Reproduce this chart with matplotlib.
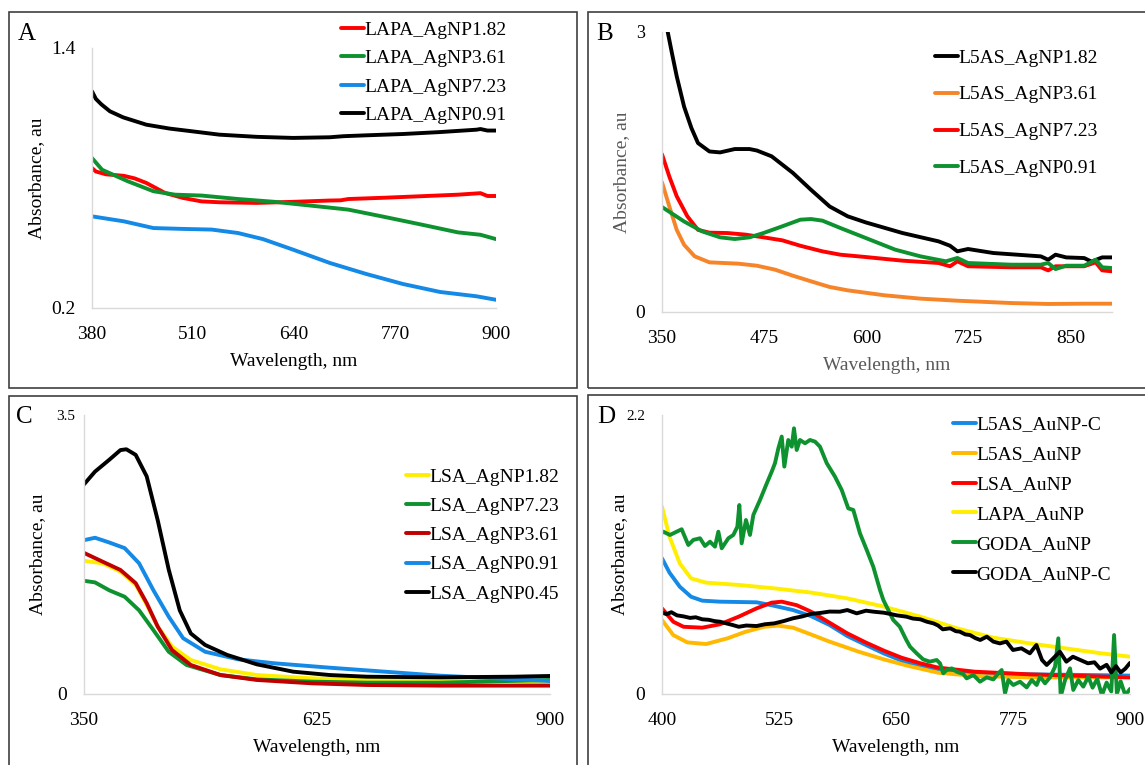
import numpy as np
import matplotlib
matplotlib.use('Agg')
import matplotlib.pyplot as plt
from matplotlib.patches import Rectangle

plt.rcParams['font.family'] = ['Liberation Serif', 'DejaVu Serif']

W, H = 1145, 765

## panel A : LAPA_AgNP (wavelength nm, absorbance au)
a_agnp182 = [(380, 0.846), (385, 0.83), (398, 0.817), (421, 0.81), (435, 0.798), (450, 0.777),
             (474, 0.731), (497, 0.708), (521, 0.692), (544, 0.688), (592, 0.685), (639, 0.69),
             (686, 0.696), (700, 0.697), (710, 0.703), (757, 0.709), (804, 0.716), (851, 0.723),
             (880, 0.73), (889, 0.717), (900, 0.717)]
a_agnp361 = [(380, 0.892), (393, 0.838), (426, 0.785), (459, 0.739), (487, 0.723), (521, 0.719),
             (568, 0.703), (615, 0.69), (663, 0.672), (700, 0.658), (710, 0.654), (757, 0.62),
             (804, 0.585), (851, 0.549), (880, 0.538), (900, 0.518)]
a_agnp723 = [(380, 0.623), (421, 0.6), (459, 0.569), (497, 0.565), (534, 0.562), (568, 0.546),
             (600, 0.518), (639, 0.469), (686, 0.408), (733, 0.357), (780, 0.311), (828, 0.274),
             (875, 0.254), (900, 0.238)]
a_agnp091 = [(380, 1.2), (385, 1.165), (392, 1.14), (403, 1.108), (420, 1.08), (450, 1.046),
             (480, 1.028), (510, 1.015), (544, 1.0), (592, 0.99), (639, 0.985), (686, 0.988),
             (704, 0.993), (733, 0.997), (780, 1.003), (828, 1.012), (875, 1.023), (880, 1.026),
             (889, 1.019), (900, 1.019)]
a_labels = ['LAPA_AgNP1.82', 'LAPA_AgNP3.61', 'LAPA_AgNP7.23', 'LAPA_AgNP0.91']

## panel B : L5AS_AgNP
b_agnp182 = [(350, 3.3), (357, 3.0), (362, 2.78), (368, 2.525), (377, 2.2), (386, 1.97), (394, 1.81),
             (408, 1.72), (421, 1.71), (439, 1.746), (457, 1.746), (466, 1.73), (484, 1.668),
             (510, 1.49), (532, 1.31), (555, 1.13), (577, 1.025), (599, 0.96), (644, 0.846),
             (688, 0.757), (702, 0.71), (711, 0.65), (724, 0.675), (755, 0.632), (813, 0.596),
             (822, 0.56), (831, 0.614), (844, 0.585), (866, 0.578), (875, 0.54), (888, 0.585),
             (900, 0.585)]
b_agnp361 = [(350, 1.39), (359, 1.13), (368, 0.88), (377, 0.72), (390, 0.596), (408, 0.532),
             (443, 0.518), (466, 0.496), (488, 0.454), (510, 0.389), (532, 0.329), (555, 0.268),
             (577, 0.232), (622, 0.179), (666, 0.143), (711, 0.121), (777, 0.096), (822, 0.086),
             (866, 0.089), (900, 0.089)]
b_agnp723 = [(350, 1.69), (359, 1.45), (368, 1.24), (381, 1.025), (394, 0.88), (408, 0.85),
             (430, 0.846), (452, 0.829), (474, 0.8), (497, 0.768), (519, 0.71), (546, 0.65),
             (568, 0.614), (599, 0.589), (644, 0.55), (688, 0.525), (702, 0.49), (711, 0.543),
             (724, 0.49), (777, 0.479), (813, 0.479), (822, 0.446), (831, 0.49), (866, 0.49),
             (880, 0.532), (888, 0.446), (900, 0.436)]
b_agnp091 = [(350, 1.125), (377, 0.97), (399, 0.864), (421, 0.8), (439, 0.782), (457, 0.8),
             (474, 0.846), (497, 0.918), (519, 0.989), (532, 0.996), (546, 0.979), (568, 0.9),
             (599, 0.793), (635, 0.668), (666, 0.596), (697, 0.543), (711, 0.579), (724, 0.525),
             (777, 0.507), (813, 0.507), (822, 0.525), (831, 0.46), (844, 0.496), (866, 0.496),
             (880, 0.56), (888, 0.479), (900, 0.471)]
b_labels = ['L5AS_AgNP1.82', 'L5AS_AgNP3.61', 'L5AS_AgNP7.23', 'L5AS_AgNP0.91']

## panel C : LSA_AgNP
c_agnp182 = [(350, 1.67), (372, 1.64), (393, 1.535), (411, 1.37), (424, 1.12), (437, 0.845),
             (454, 0.594), (476, 0.427), (511, 0.31), (554, 0.238), (619, 0.197), (684, 0.176),
             (770, 0.167), (835, 0.163), (900, 0.142)]
c_agnp723 = [(350, 1.42), (363, 1.4), (380, 1.3), (398, 1.22), (415, 1.05), (432, 0.8), (450, 0.53),
             (471, 0.364), (511, 0.238), (554, 0.184), (619, 0.155), (684, 0.142), (770, 0.142),
             (900, 0.176)]
c_agnp361 = [(350, 1.77), (372, 1.66), (393, 1.556), (411, 1.39), (424, 1.14), (437, 0.845),
             (454, 0.55), (476, 0.364), (511, 0.238), (554, 0.176), (619, 0.134), (684, 0.113),
             (770, 0.105), (900, 0.105)]
c_agnp091 = [(350, 1.93), (363, 1.96), (380, 1.9), (398, 1.83), (415, 1.64), (432, 1.3), (450, 0.97),
             (467, 0.7), (493, 0.53), (532, 0.435), (575, 0.385), (640, 0.33), (705, 0.28),
             (770, 0.23), (835, 0.197), (900, 0.163)]
c_agnp045 = [(350, 2.63), (363, 2.79), (380, 2.94), (393, 3.06), (400, 3.07), (411, 3.0), (424, 2.73),
             (437, 2.18), (450, 1.56), (463, 1.05), (476, 0.76), (493, 0.615), (519, 0.49),
             (554, 0.372), (597, 0.28), (640, 0.238), (684, 0.217), (770, 0.209), (857, 0.217),
             (900, 0.226)]
c_labels = ['LSA_AgNP1.82', 'LSA_AgNP7.23', 'LSA_AgNP3.61', 'LSA_AgNP0.91', 'LSA_AgNP0.45']

## panel D : AuNP
d_l5as_c = [(400, 1.07), (408, 0.957), (419, 0.846), (431, 0.767), (443, 0.736), (462, 0.728),
            (501, 0.723), (517, 0.7), (540, 0.662), (559, 0.615), (579, 0.544), (598, 0.457),
            (618, 0.386), (637, 0.32), (656, 0.263), (676, 0.22), (695, 0.194), (734, 0.168),
            (792, 0.155), (851, 0.15), (900, 0.145)]
d_l5as = [(400, 0.583), (412, 0.465), (427, 0.407), (447, 0.394), (470, 0.439), (489, 0.49),
          (509, 0.53), (524, 0.539), (540, 0.523), (559, 0.47), (579, 0.413), (610, 0.334),
          (637, 0.273), (664, 0.22), (695, 0.168), (734, 0.142), (792, 0.131), (900, 0.131)]
d_lsa = [(400, 0.675), (412, 0.57), (423, 0.53), (443, 0.523), (462, 0.55), (482, 0.61), (501, 0.675),
         (517, 0.72), (528, 0.728), (544, 0.7), (559, 0.65), (579, 0.562), (598, 0.478), (618, 0.405),
         (637, 0.342), (656, 0.286), (676, 0.242), (695, 0.208), (734, 0.176), (792, 0.155),
         (851, 0.142), (900, 0.131)]
d_lapa = [(400, 1.477), (408, 1.24), (419, 1.03), (431, 0.912), (447, 0.878), (482, 0.86), (520, 0.833),
          (559, 0.8), (598, 0.754), (637, 0.689), (676, 0.61), (715, 0.518), (754, 0.444), (792, 0.4),
          (831, 0.36), (870, 0.32), (900, 0.294)]
d_goda = [(400, 1.27), (401.4, 1.28), (408.5, 1.254), (415.7, 1.28), (421, 1.299), (428.1, 1.175),
          (433.5, 1.215), (440.6, 1.228), (445.9, 1.167), (451.3, 1.201), (456.6, 1.162), (460.2, 1.28),
          (463.8, 1.149), (470.9, 1.228), (476.2, 1.254), (480.5, 1.319), (482.6, 1.49), (485.1, 1.188),
          (489.7, 1.372), (494, 1.254), (497.6, 1.412), (504.7, 1.53), (511.9, 1.66), (517.2, 1.753),
          (520.7, 1.82), (524.3, 1.937), (527.9, 2.03), (530.7, 1.793), (534.9, 2.003), (538.6, 1.95),
          (541, 2.095), (543.9, 1.924), (547.4, 2.003), (552.8, 1.977), (558.1, 2.003), (563.5, 1.99),
          (568.8, 1.95), (576, 1.82), (584.8, 1.714), (592, 1.609), (599, 1.464), (604.4, 1.451),
          (611.5, 1.267), (618.7, 1.136), (625.7, 1.004), (632.9, 0.82), (636.5, 0.741), (647, 0.584),
          (654, 0.531), (661, 0.426), (665, 0.373), (672, 0.321), (679, 0.273), (686, 0.255),
          (693.5, 0.268), (697, 0.242), (700.5, 0.163), (704, 0.189), (709.5, 0.202), (714.8, 0.176),
          (721.9, 0.157), (725.5, 0.123), (732.6, 0.15), (739.7, 0.097), (746.9, 0.131), (754, 0.115),
          (759.3, 0.163), (762.9, 0.189), (766.5, 0.005), (770, 0.11), (775.3, 0.071), (782.5, 0.097),
          (789.6, 0.052), (795, 0.11), (800.3, 0.071), (803.9, 0.137), (809.2, 0.084), (814.5, 0.131),
          (819.9, 0.215), (823.4, 0.439), (826, -0.02), (830.6, 0.11), (835.9, 0.202), (839.4, 0.032),
          (844.8, 0.11), (850.1, 0.058), (855.4, 0.137), (860, 0.05), (865, 0.12), (870, -0.01),
          (875, 0.09), (880, 0.02), (883, 0.465), (886, 0.0), (890, 0.1), (895, -0.01), (900, 0.04)]
d_goda_c = [(400, 0.641), (405, 0.63), (410, 0.645), (416, 0.62), (423, 0.612), (430, 0.6), (436, 0.605),
            (443, 0.589), (450, 0.585), (456, 0.575), (462, 0.57), (468, 0.558), (475, 0.545),
            (482, 0.53), (490, 0.54), (501, 0.536), (510, 0.55), (520, 0.557), (530, 0.575),
            (540, 0.597), (550, 0.612), (559, 0.631), (570, 0.64), (579, 0.65), (590, 0.649),
            (598, 0.662), (608, 0.636), (618, 0.657), (626, 0.649), (637, 0.641), (644, 0.631),
            (651, 0.62), (661, 0.61), (668, 0.595), (676, 0.589), (683, 0.57), (690, 0.557),
            (695, 0.54), (700, 0.51), (708, 0.518), (714, 0.495), (718, 0.492), (724, 0.47),
            (729, 0.465), (735, 0.44), (740, 0.426), (747, 0.452), (754, 0.413), (761, 0.399),
            (768, 0.413), (775, 0.347), (784, 0.36), (793, 0.321), (800, 0.386), (806, 0.268),
            (811, 0.229), (818, 0.281), (825, 0.334), (832, 0.255), (839, 0.294), (847, 0.268),
            (855, 0.242), (862, 0.25), (868, 0.2), (875, 0.23), (880, 0.17), (885, 0.22),
            (890, 0.17), (895, 0.2), (900, 0.245)]
d_labels = ['L5AS_AuNP-C', 'L5AS_AuNP', 'LSA_AuNP', 'LAPA_AuNP', 'GODA_AuNP', 'GODA_AuNP-C']

RED = '#FF0000'
GREEN = '#0E9230'
BLUE = '#1589E6'
BLACK = '#000000'
ORANGE = '#F6852A'
YELLOW = '#FFEE00'
DARKRED = '#C00000'
GOLD = '#FFB900'


def frac_box(left, top, right, bottom):
    ## pixel box -> figure fraction [l, b, w, h]
    return [left / W, 1 - bottom / H, (right - left) / W, (bottom - top) / H]


def panel(fig, box, series, colors, labels, xlim, xticks, ylim, leg_xy, leg_space,
          letter, letter_xy, ylab_x, xlab_y, lab_color='black', top_size=14, top_pad=12):
    left, top, right, bottom = box
    ax = fig.add_axes(frac_box(*box))
    for s, c, lab in zip(series, colors, labels):
        arr = np.array(s)
        ax.plot(arr[:, 0], arr[:, 1], color=c, lw=2.8, label=lab,
                solid_capstyle='round', solid_joinstyle='round')
    ax.set_xlim(xlim)
    ax.set_ylim(ylim)
    ax.set_xticks(xticks)
    ax.set_yticks(ylim)
    ax.set_yticklabels([f'{v:g}' for v in ylim])
    ax.tick_params(length=0, labelsize=14, colors='black')
    ax.tick_params(axis='x', pad=13)
    ax.tick_params(axis='y', pad=12)
    ## top y label is smaller in some panels
    ax.get_yticklabels()[1].set_fontsize(top_size)
    ax.yaxis.get_major_ticks()[1].set_pad(top_pad)
    for sp in ['top', 'right']:
        ax.spines[sp].set_visible(False)
    for sp in ['left', 'bottom']:
        ax.spines[sp].set_color('#D9D9D9')
        ax.spines[sp].set_linewidth(1.0)
    ax.set_xlabel('Wavelength, nm', fontsize=14, color=lab_color)
    ax.set_ylabel('Absorbance, au', fontsize=14, color=lab_color)
    ax.xaxis.label.set_va('center')
    ax.yaxis.label.set_va('center')
    ax.xaxis.set_label_coords(0.5, (bottom - xlab_y) / (bottom - top))
    ax.yaxis.set_label_coords((ylab_x - left) / (right - left), 0.5)
    ax.legend(loc='upper left', bbox_to_anchor=(leg_xy[0] / W, 1 - leg_xy[1] / H),
              bbox_transform=fig.transFigure, frameon=False, borderpad=0, borderaxespad=0,
              handlelength=1.2, handletextpad=0.0, labelspacing=leg_space, fontsize=14)
    fig.text(letter_xy[0] / W, 1 - letter_xy[1] / H, letter, fontsize=18,
             ha='left', va='center')
    return ax


fig = plt.figure(figsize=(W / 100, H / 100), dpi=100)

## panel frames
for l, t, r, b in [(9, 12, 577, 388), (588, 12, 1150, 388), (9, 396, 577, 770), (588, 395, 1150, 770)]:
    fig.add_artist(Rectangle((l / W, 1 - b / H), (r - l) / W, (b - t) / H, transform=fig.transFigure,
                             fill=False, ec='#3F3F3F', lw=1.2))

panel(fig, (92, 48, 496, 308), [a_agnp182, a_agnp361, a_agnp723, a_agnp091],
      [RED, GREEN, BLUE, BLACK], a_labels, (380, 900), [380, 510, 640, 770, 900], (0.2, 1.4),
      (341, 21), 0.56, 'A', (18, 34), 37, 361)

panel(fig, (662, 32, 1112, 312), [b_agnp182, b_agnp361, b_agnp723, b_agnp091],
      [BLACK, ORANGE, RED, GREEN], b_labels, (350, 900), [350, 475, 600, 725, 850], (0, 3),
      (935, 49), 0.99, 'B', (596, 34), 622, 365, lab_color='#595959', top_size=13)

panel(fig, (84, 415, 550, 694), [c_agnp182, c_agnp723, c_agnp361, c_agnp091, c_agnp045],
      [YELLOW, GREEN, DARKRED, BLUE, BLACK], c_labels, (350, 900), [350, 625, 900], (0, 3.5),
      (406, 468), 0.6, 'C', (16, 417), 38, 748, top_size=11, top_pad=6)

panel(fig, (662, 415, 1130, 694), [d_l5as_c, d_l5as, d_lsa, d_lapa, d_goda, d_goda_c],
      [BLUE, GOLD, RED, YELLOW, GREEN, BLACK], d_labels, (400, 900), [400, 525, 650, 775, 900],
      (0, 2.2), (953, 416), 0.63, 'D', (597, 417), 620, 748, top_size=11)

fig.savefig('out.png', dpi=100)
